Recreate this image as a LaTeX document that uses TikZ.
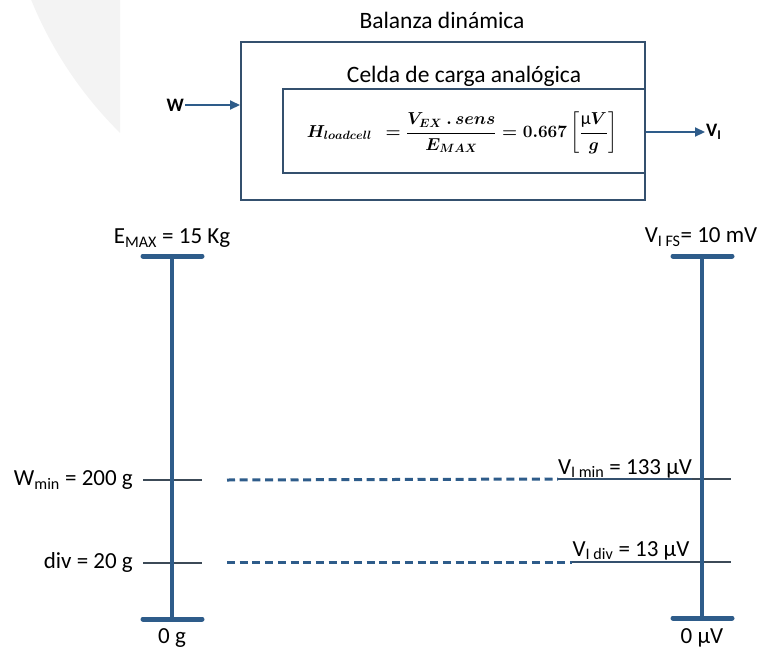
\documentclass[tikz,border=0pt]{standalone}
\usepackage{amsmath}
\usepackage[no-math]{fontspec}
\setmainfont{Carlito}
\usetikzlibrary{arrows.meta}
\definecolor{boxc}{HTML}{34506E}
\definecolor{barc}{HTML}{2E5C8A}
\definecolor{tickc}{HTML}{3C4A57}
\definecolor{wmark}{HTML}{F3F3F3}
\tikzset{
  blockbox/.style={draw=boxc, line width=2pt, inner sep=0pt},
  lbl/.style={font=\fontsize{23}{27}\selectfont, inner sep=0pt},
  sigarrow/.style={draw=barc, line width=2.2pt, -{Triangle[length=10pt,width=9pt]}},
  endbar/.style={draw=barc, line width=5pt, line cap=round},
  scaleline/.style={draw=barc, line width=4.2pt},
  tickline/.style={draw=tickc, line width=1.8pt},
  underln/.style={draw=boxc, line width=1.8pt},
  guide/.style={draw=barc, line width=3pt, dash pattern=on 8pt off 4.7pt}
}
\begin{document}
\begin{tikzpicture}[x=1pt,y=-1pt]
\useasboundingbox (0,0) rectangle (761,651);
% watermark
\begin{scope}
  \clip (0,0) rectangle (120,651);
  \fill[wmark] (400,-150) circle (398);
\end{scope}
% blocks
\node[blockbox, minimum width=404pt, minimum height=158pt] (outer) at (443,121) {};
\node[blockbox, minimum width=362pt, minimum height=84pt] (inner) at (464,131) {};
\node[font=\fontsize{23.5}{27}\selectfont, inner sep=0pt] (ttl) at (442,20) {Balanza dinámica};
\node[font=\fontsize{23.5}{27}\selectfont, inner sep=0pt] (cel) at (464,76) {Celda de carga analógica};
\node[font=\fontsize{18}{21}\selectfont\boldmath, inner sep=0pt] (hform) at (462,133)
  {$H_{loadcell}\ \ = \dfrac{V_{EX}\ .\,sens}{E_{MAX}} = 0.667\left[\dfrac{\text{µ}V}{g}\right]$};
% input / output
\node[font=\fontsize{19}{22}\selectfont\bfseries, inner sep=1pt, anchor=east] (w) at (185,105) {W};
\draw[sigarrow] (w.east) -- (outer.west |- w.east);
\node[font=\fontsize{19}{22}\selectfont\bfseries, inner sep=1pt, anchor=west] (vi) at (705,132) {V\textsubscript{I}};
\draw[sigarrow] (outer.east |- vi.west) -- (vi.west);
% left scale
\coordinate (LT) at (172,256); \coordinate (LB) at (172,619);
\coordinate (LTa) at (143,256); \coordinate (LTb) at (202,256);
\coordinate (LBa) at (143,619); \coordinate (LBb) at (202,619);
\coordinate (LWa) at (143,480); \coordinate (LWb) at (202,480);
\coordinate (LDa) at (143,563); \coordinate (LDb) at (202,563);
\draw[tickline] (LWa) -- (LWb);
\draw[tickline] (LDa) -- (LDb);
\draw[scaleline] (LT) -- (LB);
\draw[endbar] (LTa) -- (LTb);
\draw[endbar] (LBa) -- (LBb);
% right scale
\coordinate (RT) at (702,256); \coordinate (RB) at (702,618);
\coordinate (RTa) at (673,256); \coordinate (RTb) at (732,256);
\coordinate (RBa) at (673,618); \coordinate (RBb) at (732,618);
\coordinate (RWu) at (558,479); \coordinate (RWa) at (692,479); \coordinate (RWb) at (731,479);
\coordinate (RDu) at (572,562); \coordinate (RDa) at (690,562); \coordinate (RDb) at (731,562);
\draw[underln] (RWu) -- (RWa);
\draw[tickline] (RWa) -- (RWb);
\draw[underln] (RDu) -- (RDa);
\draw[tickline] (RDa) -- (RDb);
\draw[scaleline] (RT) -- (RB);
\draw[endbar] (RTa) -- (RTb);
\draw[endbar] (RBa) -- (RBb);
% dashed guides
\coordinate (GW) at (227,480); \coordinate (GD) at (227,562);
\draw[guide] (GW) -- (RWu);
\draw[guide] (GD) -- (RDu);
% labels
\node[lbl] (emax) at (172,238) {E\textsubscript{MAX} = 15 Kg};
\node[lbl] (vifs) at (701,237) {V\textsubscript{I FS}= 10 mV};
\node[lbl, anchor=east] (wmin) at (133,480) {W\textsubscript{min} = 200 g};
\node[lbl, anchor=east] (divl) at (133,562) {div = 20 g};
\node[lbl] (zg) at (172,638) {0 g};
\node[lbl, anchor=base] (vimin) at (625,474) {V\textsubscript{I min} = 133 µV};
\node[lbl, anchor=base] (vidiv) at (631,556) {V\textsubscript{I div} = 13 µV};
\node[lbl] (zuv) at (702,638) {0 µV};
\end{tikzpicture}
\end{document}
